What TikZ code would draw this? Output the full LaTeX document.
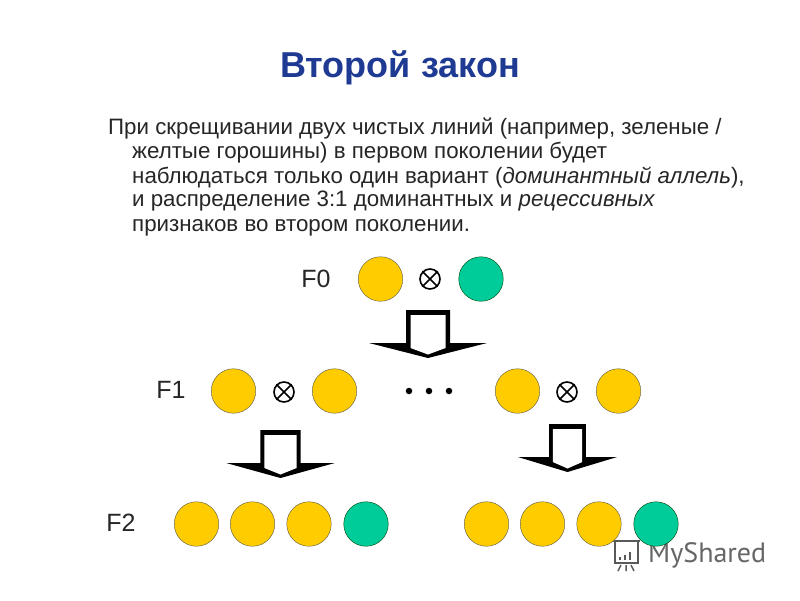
\documentclass[tikz,border=0pt]{standalone}
\usepackage{fontspec}
\setmainfont{Liberation Sans}
\newfontfamily\markfont{PT Sans}
\definecolor{peaYellow}{RGB}{255,204,0}
\definecolor{peaGreen}{RGB}{0,204,153}
\definecolor{titleBlue}{RGB}{31,58,147}
\begin{document}
\begin{tikzpicture}
[x=1pt,y=-1pt,%
  yellowDecorate/.style={shape=circle,minimum size=44.5pt,inner sep=0pt,draw=black!75!yellow,thin,fill=peaYellow},%
  greenDecorate/.style={shape=circle,minimum size=44.5pt,inner sep=0pt,draw=black!75!green,thin,fill=peaGreen},%
  crossDecorate/.style={shape=circle,minimum size=20pt,inner sep=0pt,draw,line width=1.6pt},%
  dotDecorate/.style={shape=circle,minimum size=6.5pt,inner sep=0pt,fill=black},%
  lineDecorate/.style={anchor=base west,inner sep=0pt,font=\fontsize{22.3}{24}\selectfont,text=black!85},%
  genDecorate/.style={inner sep=0pt,font=\fontsize{25}{28}\selectfont,text=black!85},%
  arrowDecorate/.pic={
    \fill[black] (-22,-33) -- (22,-33) -- (22,0) -- (59,0) -- (0,15) -- (-59,0) -- (-22,0) -- cycle;
    \fill[white] (-17.5,-28) -- (17.5,-28) -- (17.5,5) -- (0,11.5) -- (-17.5,5) -- cycle;
  }]
\useasboundingbox (0,0) rectangle (800,600);
\fill[white] (0,0) rectangle (800,600);
%% watermark
\node (mark) at (648,555) [anchor=west,inner sep=0pt,text=black!60,font=\markfont\fontsize{28}{30}\selectfont] {MyShared};
\draw[black!65,line width=1.5pt] (613,541) -- (640,541) (615,541) -- (615,563) -- (638,563) -- (638,541);
\draw[black!65,line width=2pt] (620,560) -- (620,557) (625,560) -- (625,555) (630,560) -- (630,552);
\draw[black!65,line width=1.5pt] (621,565) -- (618,571) (626,565) -- (626,571) (631,565) -- (634,571);
%% title and text
\node (title) at (400,68) [inner sep=0pt,text=titleBlue,font=\fontsize{36}{40}\selectfont\bfseries] {Второй закон};
\node (line1) at (108,134) [lineDecorate] {При скрещивании двух чистых линий (например, зеленые /};
\node (line2) at (132,158) [lineDecorate] {желтые горошины) в первом поколении будет};
\node (line3) at (132,183) [lineDecorate] {наблюдаться только один вариант (\textit{доминантный аллель}),};
\node (line4) at (132,206) [lineDecorate] {и распределение 3:1 доминантных и \textit{рецессивных}};
\node (line5) at (132,231) [lineDecorate] {признаков во втором поколении.};
%% generations
\foreach \nodename/\x/\y in {0/316/279, 1/171/390, 2/121/523}
{
  \node (gen\nodename) at (\x,\y) [genDecorate] {F\nodename};
}
%% peas
\foreach \nodename/\x/\y in {a/380.5/279, b/233.5/391, c/334.5/391, d/517.5/391, e/618.5/391,
  f/196.5/524, g/252.5/524, h/309/524, i/486.5/524, j/542.5/524, k/599/524}
{
  \node (\nodename) at (\x,\y) [yellowDecorate] {};
}
\foreach \nodename/\x/\y in {l/481/279, m/366/524, n/656/524}
{
  \node (\nodename) at (\x,\y) [greenDecorate] {};
}
%% crossing signs
\foreach \nodename/\x/\y in {p/430/279, q/284/392, r/567/392}
{
  \node (\nodename) at (\x,\y) [crossDecorate] {};
  \draw[line width=1.6pt] (\nodename.north west) -- (\nodename.south east)
    (\nodename.north east) -- (\nodename.south west);
}
\foreach \nodename/\x in {s/409, t/429, u/449}
{
  \node (\nodename) at (\x,391) [dotDecorate] {};
}
%% arrows
\path (428,343) pic {arrowDecorate};
\path (280.5,463) pic[xscale=.92,yscale=1] {arrowDecorate};
\path (567.5,457) pic[xscale=.84,yscale=1] {arrowDecorate};
\end{tikzpicture}
\end{document}
